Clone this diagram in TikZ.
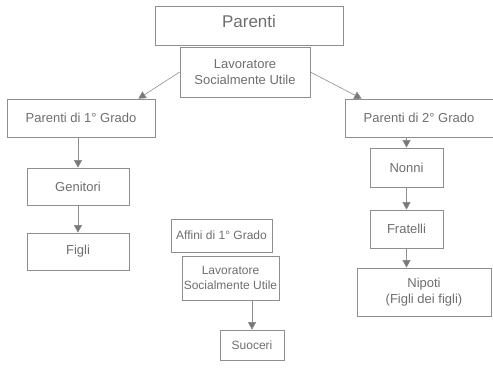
\documentclass[tikz,border=0pt]{standalone}
\usepackage{fontspec}
\setmainfont{Liberation Sans}
\usetikzlibrary{arrows.meta}

\definecolor{boxgray}{HTML}{8E8E8E}
\definecolor{textgray}{HTML}{6E6E6E}
\definecolor{tipgray}{HTML}{787878}

\tikzset{
  box/.style={draw=boxgray, line width=0.6pt, text=textgray, align=center,
    inner sep=2pt, font=\fontsize{13}{15.5}\selectfont},
  smallbox/.style={box, font=\fontsize{12}{14.5}\selectfont},
  link/.style={draw=boxgray, line width=0.6pt,
    -{Triangle[width=8pt, length=7.5pt, fill=tipgray]}},
}

\begin{document}
\begin{tikzpicture}[x=1pt, y=-1pt]
	% The page
	\useasboundingbox (0,0) rectangle (493,377);
	% Top of the tree
	\node[box, minimum width=188pt, minimum height=39pt, text depth=8pt, font=\fontsize{17}{20}\selectfont] (parenti) at (249,25.5) {Parenti};
	\node[box, minimum width=130pt, minimum height=50pt] (lav1) at (245,72) {Lavoratore\\Socialmente Utile};
	% First degree, left column
	\node[box, minimum width=148pt, minimum height=38pt] (par1) at (81,118) {Parenti di 1° Grado};
	\node[box, minimum width=102pt, minimum height=37pt] (gen) at (78,186.5) {Genitori};
	\node[box, minimum width=102pt, minimum height=37pt] (figli) at (78,251.5) {Figli};
	% Second degree, right column
	\node[box, minimum width=148pt, minimum height=38pt] (par2) at (419,118) {Parenti di 2° Grado};
	\node[box, minimum width=73pt, minimum height=39pt] (nonni) at (406.5,167.5) {Nonni};
	\node[box, minimum width=73pt, minimum height=38pt] (fratelli) at (406.5,229) {Fratelli};
	\node[box, minimum width=134pt, minimum height=48pt] (nipoti) at (424,292) {Nipoti\\(Figli dei figli)};
	% Affini, middle column
	\node[smallbox, minimum width=101pt, minimum height=33pt] (affini) at (221.5,235.5) {Affini di 1° Grado};
	\node[smallbox, minimum width=97pt, minimum height=44pt] (lav2) at (230.5,278) {Lavoratore\\Socialmente Utile};
	\node[smallbox, minimum width=64pt, minimum height=30pt] (suoceri) at (252,345) {Suoceri};
	% The connectors
	\draw[link] (lav1.west) -- ([xshift=-17pt]par1.north east);
	\draw[link] (lav1.east) -- ([xshift=17pt]par2.north west);
	\draw[link] (par1.south -| gen.north) -- (gen.north);
	\draw[link] (gen) -- (figli);
	\draw[link] (par2.south -| nonni.north) -- (nonni.north);
	\draw[link] (nonni) -- (fratelli);
	\draw[link] (fratelli.south) -- (nipoti.north -| fratelli.south);
	\draw[link] (lav2.south -| suoceri.north) -- (suoceri.north);
\end{tikzpicture}
\end{document}
